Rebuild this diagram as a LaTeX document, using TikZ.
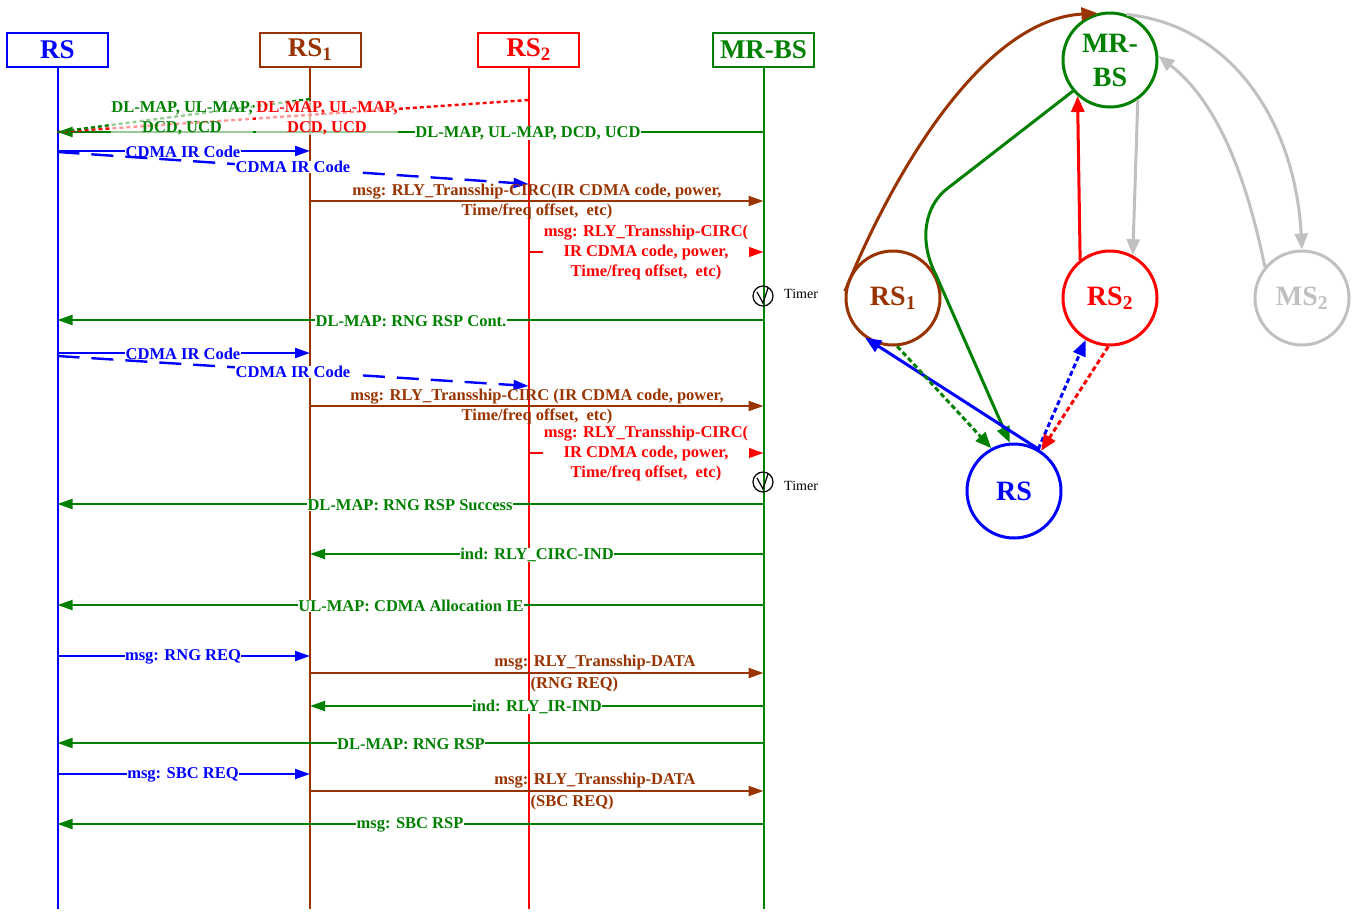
\documentclass[tikz,border=0pt]{standalone}
\usepackage{fontspec}
\setmainfont{Liberation Serif}
\usetikzlibrary{arrows.meta}
\definecolor{cgreen}{RGB}{0,128,0}
\definecolor{cbrown}{RGB}{153,51,0}
\definecolor{cgrey}{RGB}{192,192,192}
\begin{document}
\begin{tikzpicture}[x=1pt,y=-1pt,
 hdr/.style={draw,line width=2pt,minimum width=101pt,minimum height=34pt,inner sep=0pt,font=\fontsize{27}{27}\selectfont\bfseries},
 life/.style={line width=2pt},
 msg/.style={line width=2pt,-{Triangle[length=15pt,width=10pt]}},
 lbl/.style={font=\fontsize{16.5}{20}\selectfont\bfseries,inner sep=0.5pt,align=center},
 lblw/.style={lbl,fill=white},
 lblt/.style={lbl,fill=white,fill opacity=0.6,text opacity=1},
 dsh/.style={dash pattern=on 22pt off 12pt,line width=2.4pt},
 dts/.style={dash pattern=on 4pt off 3pt,line width=2.4pt},
 circ/.style={circle,draw,line width=3pt,minimum size=94pt,inner sep=0pt,font=\fontsize{28}{34}\selectfont\bfseries,align=center},
 gar/.style={line width=3pt,-{Triangle[length=16pt,width=13pt]}},
 gdt/.style={gar,dash pattern=on 5pt off 3pt},
 timer/.style={circle,draw,line width=1.2pt,minimum size=20pt,inner sep=0pt},
 tlab/.style={font=\fontsize{14}{14}\selectfont,anchor=west,inner sep=0pt}
]
\useasboundingbox (0,0) rectangle (1353,911);
% headers
\node[hdr,blue] (hRS) at (57.5,50) {RS};
\node[hdr,cbrown] (hRS1) at (310,50) {RS\textsubscript{1}};
\node[hdr,red] (hRS2) at (528.5,50) {RS\textsubscript{2}};
\node[hdr,cgreen] (hBS) at (763.5,50) {MR-BS};
\coordinate (eRS) at (57.5,909);
\coordinate (eRS1) at (310,909);
\coordinate (eRS2) at (528.5,909);
\coordinate (eBS) at (763.5,909);
\draw[life,blue] (hRS.south) -- (eRS);
\draw[life,cbrown] (hRS1.south) -- (eRS1);
\draw[life,red] (hRS2.south) -- (eRS2);
\draw[life,cgreen] (hBS.south) -- (eBS);

% first broadcast
\draw[msg,cgreen] (hBS |- 0,132) -- (hRS |- 0,132);
\draw[dts,red] (hRS2 |- 0,100) -- (hRS |- 0,132);
\draw[dts,cgreen] (hRS1 |- 0,99) -- (hRS |- 0,132);
\node[lblw,text=cgreen] (l1) at (528,133) {DL-MAP, UL-MAP, DCD, UCD};
\node[lblt,text=cgreen] (l2) at (182,118) {DL-MAP, UL-MAP,\\DCD, UCD};
\node[lblt,text=red] (l3) at (327,118) {DL-MAP, UL-MAP,\\DCD, UCD};

% CDMA codes
\draw[msg,blue] (hRS |- 0,151) -- (hRS1 |- 0,151);
\node[lblw,text=blue] (l4) at (183,152) {CDMA IR Code};
\draw[msg,dsh,blue] (hRS |- 0,152) -- (hRS2 |- 0,184);
\node[lblw,text=blue] (l5) at (293,167) {CDMA IR Code};

\draw[msg,cbrown] (hRS1 |- 0,201) -- (hBS |- 0,201);
\node[lbl,text=cbrown] (l6) at (537,202) {msg: RLY\_Transship-CIRC(IR CDMA code, power,\\Time/freq offset,\ \ etc)};
\draw[msg,red] (hRS2 |- 0,252) -- (hBS |- 0,252);
\node[lblw,text=red,inner sep=1pt] (l7) at (646,253) {msg: RLY\_Transship-CIRC(\\IR CDMA code, power,\\Time/freq offset,\ \ etc)};
\node[timer] (t1) at (763,296) {};
\draw[line width=1.2pt] ([shift={(-6,-4)}]t1.center) -- ([shift={(0,7)}]t1.center) -- ([shift={(5,-8)}]t1.center);
\node[tlab] (tl1) at (784,294) {Timer};

\draw[msg,cgreen] (hBS |- 0,320) -- (hRS |- 0,320);
\node[lblw,text=cgreen] (l8) at (411,321) {DL-MAP: RNG RSP Cont.};

\draw[msg,blue] (hRS |- 0,353) -- (hRS1 |- 0,353);
\node[lblw,text=blue] (l9) at (183,354) {CDMA IR Code};
\draw[msg,dsh,blue] (hRS |- 0,356) -- (hRS2 |- 0,386);
\node[lblw,text=blue] (l10) at (293,372) {CDMA IR Code};

\draw[msg,cbrown] (hRS1 |- 0,406) -- (hBS |- 0,406);
\node[lbl,text=cbrown] (l11) at (537,407) {msg: RLY\_Transship-CIRC (IR CDMA code, power,\\Time/freq offset,\ \ etc)};
\draw[msg,red] (hRS2 |- 0,453) -- (hBS |- 0,453);
\node[lblw,text=red,inner sep=1pt] (l12) at (646,454) {msg: RLY\_Transship-CIRC(\\IR CDMA code, power,\\Time/freq offset,\ \ etc)};
\node[timer] (t2) at (763,482) {};
\draw[line width=1.2pt] ([shift={(-6,-4)}]t2.center) -- ([shift={(0,7)}]t2.center) -- ([shift={(5,-8)}]t2.center);
\node[tlab] (tl2) at (784,486) {Timer};

\draw[msg,cgreen] (hBS |- 0,504) -- (hRS |- 0,504);
\node[lblw,text=cgreen] (l13) at (410,505) {DL-MAP: RNG RSP Success};
\draw[msg,cgreen] (hBS |- 0,554) -- (hRS1 |- 0,554);
\node[lblw,text=cgreen] (l14) at (537,555) {ind: RLY\_CIRC-IND};
\draw[msg,cgreen] (hBS |- 0,605) -- (hRS |- 0,605);
\node[lblw,text=cgreen] (l15) at (411,606) {UL-MAP: CDMA Allocation IE};

\draw[msg,blue] (hRS |- 0,656) -- (hRS1 |- 0,656);
\node[lblw,text=blue] (l16) at (183,657) {msg: RNG REQ};
\draw[msg,cbrown] (hRS1 |- 0,673) -- (hBS |- 0,673);
\node[lbl,text=cbrown] (l17) at (595,663) {msg: RLY\_Transship-DATA};
\node[lbl,text=cbrown,anchor=west] (l18) at (530,685) {(RNG REQ)};
\draw[msg,cgreen] (hBS |- 0,706) -- (hRS1 |- 0,706);
\node[lblw,text=cgreen] (l19) at (537,707) {ind: RLY\_IR-IND};
\draw[msg,cgreen] (hBS |- 0,743) -- (hRS |- 0,743);
\node[lblw,text=cgreen] (l20) at (411,744) {DL-MAP: RNG RSP};
\draw[msg,blue] (hRS |- 0,774) -- (hRS1 |- 0,774);
\node[lblw,text=blue] (l21) at (183,775) {msg: SBC REQ};
\draw[msg,cbrown] (hRS1 |- 0,791) -- (hBS |- 0,791);
\node[lbl,text=cbrown] (l22) at (595,781) {msg: RLY\_Transship-DATA};
\node[lbl,text=cbrown,anchor=west] (l23) at (530,803) {(SBC REQ)};
\draw[msg,cgreen] (hBS |- 0,824) -- (hRS |- 0,824);
\node[lblw,text=cgreen] (l24) at (410,825) {msg: SBC RSP};

% right graph
\node[circ,cgreen] (cBS) at (1110,60) {MR-\\BS};
\node[circ,cbrown] (cRS1) at (893,298) {RS\textsubscript{1}};
\node[circ,red] (cRS2) at (1110,298) {RS\textsubscript{2}};
\node[circ,cgrey] (cMS2) at (1302,298) {MS\textsubscript{2}};
\node[circ,blue] (cRS) at (1014,491) {RS};

\draw[gar,cbrown] (cRS1.172) .. controls (890,180) and (980,20) .. (cBS.105);
\draw[gar,cgrey] (cBS.70) .. controls (1230,25) and (1295,120) .. (cMS2.north);
\draw[gar,cgrey] (cMS2.140) .. controls (1245,170) and (1215,100) .. (cBS.5);
\draw[gar,cgrey] (cBS.-55) -- (cRS2.62);
\draw[gar,red] (cRS2.128) -- (cBS.-132);
\draw[gar,cgreen] (cBS.-140) -- (948,188) .. controls (925,205) and (918,240) .. (936,275) -- (cRS.95);
\draw[gar,blue] (cRS.58) -- (cRS1.-125);
\draw[gdt,cgreen] (cRS1.-85) -- (cRS.118);
\draw[gdt,blue] (cRS.60) -- (cRS2.-120);
\draw[gdt,red] (cRS2.-92) -- (cRS.56);
\end{tikzpicture}
\end{document}
